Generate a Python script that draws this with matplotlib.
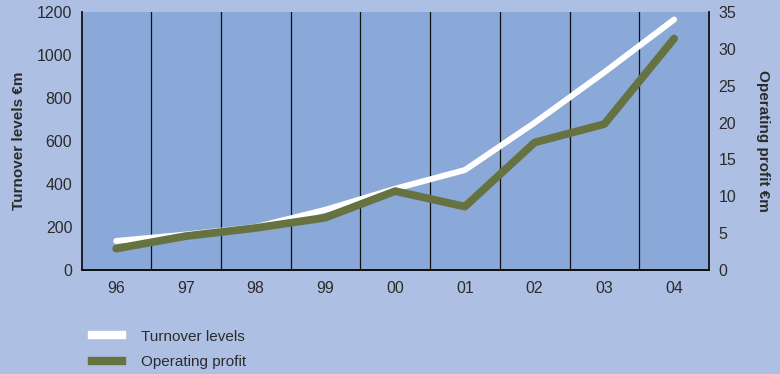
import matplotlib
matplotlib.use('Agg')
import matplotlib.pyplot as plt
from matplotlib.lines import Line2D

# data
years = ['96', '97', '98', '99', '00', '01', '02', '03', '04']
turnover = [135, 165, 200, 280, 378, 465, 685, 920, 1165]
profit = [2.9, 4.6, 5.7, 7.1, 10.7, 8.6, 17.3, 19.8, 31.4]

plt.rcParams['font.family'] = ['Liberation Sans', 'DejaVu Sans']

bg = '#adc0e4'
face = '#8aa8d8'
olive = '#667240'
txt = '#2b2b2b'

fig = plt.figure(figsize=(7.8, 3.74), dpi=100, facecolor=bg)
ax = fig.add_axes([82/780, 1 - 270/374, (709 - 82)/780, (270 - 12)/374])
ax.set_facecolor(face)
ax2 = ax.twinx()

x = list(range(len(years)))
for i in range(len(years) - 1):
    ax.axvline(i + 0.5, color='#111111', lw=0.9, zorder=1)

ax.plot(x, turnover, color='white', lw=4.3, solid_capstyle='round', zorder=3)
ax2.plot(x, profit, color=olive, lw=5.6, solid_capstyle='round', zorder=4)

ax.set_xlim(-0.49, 8.5)
ax.set_ylim(0, 1200)
ax2.set_ylim(0, 35)
ax.set_xticks(x)
ax.set_xticklabels(years)
ax.set_yticks(range(0, 1201, 200))
ax2.set_yticks(range(0, 36, 5))

for a in (ax, ax2):
    a.tick_params(length=0, labelsize=11.5, colors=txt)
    a.spines['top'].set_visible(False)
    for s in ('left', 'right', 'bottom'):
        a.spines[s].set_color('#111111')
        a.spines[s].set_linewidth(1.3)
ax.spines['right'].set_visible(False)
ax2.spines['left'].set_visible(False)
ax.tick_params(axis='x', pad=8)
ax.tick_params(axis='y', pad=7)
ax2.tick_params(axis='y', pad=7)

ax.set_ylabel('Turnover levels €m', fontsize=11, fontweight='bold', color=txt, labelpad=8)
ax2.set_ylabel('Operating profit €m', fontsize=11, fontweight='bold', color=txt,
               rotation=270, labelpad=24)

ax2.set_zorder(ax.get_zorder() + 1)
ax2.patch.set_visible(False)
ax.set_zorder(1)

handles = [Line2D([], [], color='white', lw=6), Line2D([], [], color=olive, lw=6)]
fig.legend(handles, ['Turnover levels', 'Operating profit'], loc='upper left',
           bbox_to_anchor=(78/780, 1 - 316/374), frameon=False, handlelength=2.0,
           handletextpad=1.2, labelspacing=0.75, fontsize=11, labelcolor=txt)

fig.savefig('out.png', dpi=100, facecolor=bg)
